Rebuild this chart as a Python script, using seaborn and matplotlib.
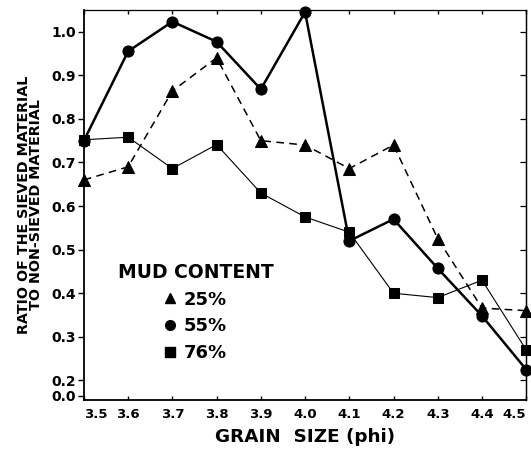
import matplotlib
matplotlib.use("Agg")
import matplotlib.pyplot as plt
from matplotlib.lines import Line2D
import seaborn as sns
import pandas as pd

grain_size = [3.5, 3.6, 3.7, 3.8, 3.9, 4.0, 4.1, 4.2, 4.3, 4.4, 4.5]
mud25 = [0.66, 0.69, 0.864, 0.94, 0.75, 0.74, 0.686, 0.74, 0.525, 0.366, 0.36]
mud55 = [0.75, 0.955, 1.023, 0.977, 0.868, 1.045, 0.52, 0.57, 0.457, 0.348, 0.225]
mud76 = [0.752, 0.758, 0.686, 0.741, 0.63, 0.575, 0.54, 0.40, 0.39, 0.43, 0.27]
series_labels = ["25%", "55%", "76%"]
ytick_vals = [0.165, 0.2, 0.3, 0.4, 0.5, 0.6, 0.7, 0.8, 0.9, 1.0]
ytick_labels = ["0.0", "0.2", "0.3", "0.4", "0.5", "0.6", "0.7", "0.8", "0.9", "1.0"]

sns.set_style("white")
plt.rcParams['font.family'] = ['DejaVu Sans']
plt.rcParams['font.weight'] = 'bold'
for k in ["text.color", "axes.labelcolor", "xtick.color", "ytick.color", "axes.edgecolor"]:
    plt.rcParams[k] = "black"

fig = plt.figure(figsize=(5.31, 4.49), dpi=100)
ax = fig.add_axes([0.158, 0.109, 0.833, 0.869])

df = pd.DataFrame({"x": grain_size, "25%": mud25, "55%": mud55, "76%": mud76})
styles = {
    "25%": dict(marker="^", linestyle=(0, (5, 3.5)), lw=1.1, ms=8.5),
    "55%": dict(marker="o", linestyle="-", lw=1.8, ms=8),
    "76%": dict(marker="s", linestyle="-", lw=0.8, ms=7.5),
}
for lab in series_labels:
    st = styles[lab]
    sns.lineplot(data=df, x="x", y=lab, ax=ax, color="black", marker=st["marker"],
                 linestyle=st["linestyle"], linewidth=st["lw"], markersize=st["ms"],
                 markeredgecolor="black", legend=False, clip_on=False, zorder=3)

ax.set_xlim(3.5, 4.5)
ax.set_ylim(0.155, 1.05)
ax.set_xticks(grain_size)
xtl = ax.set_xticklabels([f"{v:.1f}" for v in grain_size], fontsize=9.5, fontweight="bold")
xtl[0].set_horizontalalignment("left")
xtl[-1].set_horizontalalignment("right")
ax.set_yticks(ytick_vals)
ax.set_yticklabels(ytick_labels, fontsize=10, fontweight="bold")
ax.tick_params(axis="y", direction="out", length=4, width=1, left=True, right=False, pad=2)
ax.tick_params(axis="x", direction="in", length=3, width=1, bottom=True, top=True, pad=6)

sec = ax.secondary_yaxis("right")
sec.set_yticks(ytick_vals[1:])
sec.tick_params(direction="in", length=4, width=0.9, labelright=False)
sec.spines["right"].set_linewidth(0.9)

for side in ["left", "bottom"]:
    ax.spines[side].set_linewidth(1.3)
for side in ["top", "right"]:
    ax.spines[side].set_linewidth(0.9)

ax.set_xlabel("GRAIN  SIZE (phi)", fontsize=13.2, fontweight="bold", labelpad=5)
ax.set_ylabel("RATIO OF THE SIEVED MATERIAL\nTO NON-SIEVED MATERIAL", fontsize=10.3,
              fontweight="bold", linespacing=0.82, labelpad=6)

handles = [Line2D([], [], color="black", marker=styles[l]["marker"], linestyle="none",
                  markersize=7) for l in series_labels]
leg = ax.legend(handles, series_labels, title="MUD CONTENT", loc="upper left",
                bbox_to_anchor=(0.04, 0.393), frameon=False, fontsize=13,
                title_fontproperties={"size": 13.5, "weight": "bold"},
                handlelength=0.6, handletextpad=0.5, labelspacing=0.48)
for t in leg.get_texts():
    t.set_fontweight("bold")
    t.set_color("black")
leg.get_title().set_color("black")

fig.savefig("out.png", dpi=100)
